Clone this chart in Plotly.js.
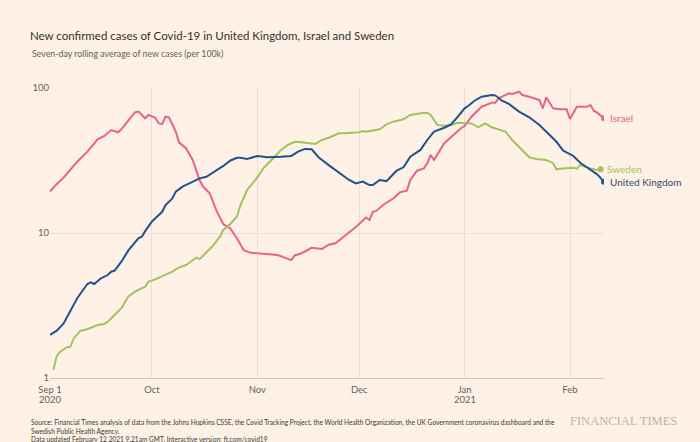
<!DOCTYPE html>
<html>
<head>
<meta charset="utf-8">
<script src="https://cdn.plot.ly/plotly-3.0.1.min.js"></script>
<style>html,body{margin:0;padding:0;background:#fff1e5;}#chart{width:700px;height:442px;}</style>
</head>
<body>
<div id="chart"></div>
<script>
// ---- data (7-day rolling average of new cases per 100k) ----
const israelDates = ['2020-09-01','2020-09-03','2020-09-05','2020-09-07','2020-09-09','2020-09-12','2020-09-15','2020-09-17','2020-09-19','2020-09-21','2020-09-22','2020-09-24','2020-09-26','2020-09-27','2020-09-29','2020-09-30','2020-10-02','2020-10-03','2020-10-04','2020-10-05','2020-10-06','2020-10-08','2020-10-09','2020-10-11','2020-10-13','2020-10-15','2020-10-16','2020-10-18','2020-10-20','2020-10-22','2020-10-24','2020-10-26','2020-10-28','2020-10-30','2020-11-02','2020-11-07','2020-11-11','2020-11-12','2020-11-14','2020-11-17','2020-11-20','2020-11-22','2020-11-24','2020-11-27','2020-11-30','2020-12-03','2020-12-04','2020-12-05','2020-12-06','2020-12-08','2020-12-11','2020-12-13','2020-12-15','2020-12-16','2020-12-18','2020-12-20','2020-12-21','2020-12-22','2020-12-23','2020-12-26','2020-12-28','2020-12-31','2021-01-01','2021-01-02','2021-01-03','2021-01-06','2021-01-09','2021-01-10','2021-01-11','2021-01-14','2021-01-15','2021-01-17','2021-01-18','2021-01-20','2021-01-22','2021-01-23','2021-01-24','2021-01-25','2021-01-27','2021-01-29','2021-01-31','2021-02-01','2021-02-03','2021-02-06','2021-02-07','2021-02-08','2021-02-09','2021-02-11'];
const israelValues = [19.3,21.8,24.1,27.5,31,36.4,44.3,46.7,51.3,49.5,51.9,59.5,68,68.7,61.8,65.2,62.4,57,56.5,63.4,62.8,50,42,38.4,31.9,23.2,20.9,18.8,14.2,11.5,10.8,9.2,7.6,7.3,7.2,7.05,6.5,7.0,7.25,7.9,7.76,8.3,8.5,9.6,11.0,12.8,12.3,14.0,14.2,15.6,17.3,19.1,19.6,23.2,26.9,27.9,30.3,34.5,31.9,41.6,46,53,54.7,59,63.4,74.3,79.2,79,84.9,91.9,90.9,94.3,89.5,87.1,83.6,82.6,72.4,86.3,72.4,71.3,71.3,61.1,74.3,74.3,76.3,69.7,67.6,61.8];

const ukDates = ['2020-09-01','2020-09-03','2020-09-05','2020-09-07','2020-09-09','2020-09-12','2020-09-13','2020-09-14','2020-09-16','2020-09-18','2020-09-19','2020-09-20','2020-09-22','2020-09-24','2020-09-26','2020-09-27','2020-09-28','2020-09-29','2020-10-01','2020-10-04','2020-10-05','2020-10-07','2020-10-08','2020-10-10','2020-10-12','2020-10-13','2020-10-15','2020-10-17','2020-10-19','2020-10-21','2020-10-22','2020-10-24','2020-10-26','2020-10-27','2020-10-29','2020-11-01','2020-11-04','2020-11-08','2020-11-11','2020-11-13','2020-11-15','2020-11-17','2020-11-19','2020-11-22','2020-11-24','2020-11-26','2020-11-28','2020-11-30','2020-12-02','2020-12-04','2020-12-05','2020-12-07','2020-12-09','2020-12-12','2020-12-14','2020-12-16','2020-12-19','2020-12-21','2020-12-23','2020-12-26','2020-12-28','2020-12-30','2021-01-01','2021-01-02','2021-01-04','2021-01-06','2021-01-07','2021-01-09','2021-01-10','2021-01-12','2021-01-14','2021-01-17','2021-01-20','2021-01-23','2021-01-26','2021-01-28','2021-01-30','2021-02-02','2021-02-04','2021-02-06','2021-02-09','2021-02-11'];
const ukValues = [1.98,2.12,2.38,2.94,3.55,4.45,4.57,4.45,4.87,5.13,5.41,5.5,6.34,7.55,8.6,9.2,9.43,10.3,12.0,14.0,15.6,17.3,19.3,20.9,22,22.6,23.8,24.4,26.1,27.9,29,31.5,33,33,32.4,34,33.3,33.6,34,36.4,38,37.8,33.3,29.4,27.2,25.1,23.2,22,22.6,21.4,21.4,23.2,22.8,26.9,28.4,33.6,37.4,43.8,50,53.2,56,63.4,72.4,75.1,82,87.1,87.9,89.5,89,81.7,77.6,68.7,62.8,55.6,47.4,42.6,37,34,30.5,28.4,25.4,22.6];

const swedenDates = ['2020-09-02','2020-09-03','2020-09-04','2020-09-06','2020-09-07','2020-09-08','2020-09-10','2020-09-12','2020-09-15','2020-09-17','2020-09-18','2020-09-20','2020-09-22','2020-09-24','2020-09-26','2020-09-29','2020-09-30','2020-10-02','2020-10-05','2020-10-07','2020-10-09','2020-10-11','2020-10-12','2020-10-14','2020-10-15','2020-10-17','2020-10-19','2020-10-21','2020-10-22','2020-10-24','2020-10-26','2020-10-27','2020-10-29','2020-11-01','2020-11-03','2020-11-06','2020-11-08','2020-11-10','2020-11-12','2020-11-14','2020-11-18','2020-11-20','2020-11-22','2020-11-25','2020-11-27','2020-12-01','2020-12-02','2020-12-03','2020-12-07','2020-12-09','2020-12-11','2020-12-14','2020-12-16','2020-12-19','2020-12-21','2020-12-22','2020-12-24','2020-12-26','2020-12-28','2020-12-30','2021-01-03','2021-01-05','2021-01-07','2021-01-09','2021-01-12','2021-01-13','2021-01-15','2021-01-18','2021-01-20','2021-01-22','2021-01-25','2021-01-27','2021-01-28','2021-01-30','2021-02-02','2021-02-03','2021-02-04','2021-02-07','2021-02-09','2021-02-10'];
const swedenValues = [1.14,1.42,1.52,1.63,1.64,1.88,2.12,2.17,2.32,2.36,2.44,2.72,3.03,3.64,3.94,4.26,4.62,4.79,5.13,5.41,5.8,6.01,6.24,6.76,6.6,7.31,8.2,9.43,10.5,11.5,13,15.5,19.8,24.2,28.4,33.3,37.4,40.5,42.6,42.2,41.1,43.8,45.4,48.7,48.7,49.5,50.5,49.9,51.9,56.2,58.6,60.8,65.2,67,67.6,65.2,55.6,55,55.6,57.6,57,53.6,57,53.6,50.5,50,43.8,36.9,33.3,32.4,31.9,30.3,27.5,27.9,28.2,27.8,29.4,27.9,27.2,27.5];

const monthTicks = ['2020-09-01','2020-10-01','2020-11-01','2020-12-01','2021-01-01','2021-02-01'];
const monthLabels = ['Sep 1','Oct','Nov','Dec','Jan','Feb'];
const yearTicks = ['2020-09-01','2021-01-01'];
const yearLabels = ['2020','2021'];
const yTicks = [1, 10, 100];
const yLabels = ['1','10','100'];

const seriesNames = ['Israel','Sweden','United Kingdom'];
const seriesColors = ['#e9618d','#a4c160','#1f528e'];
const labelColors = ['#e9618d','#a4c160','#3a4668'];

const footerLines = [
  'Source: Financial Times analysis of data from the Johns Hopkins CSSE, the Covid Tracking Project, the World Health Organization, the UK Government coronavirus dashboard and the',
  'Swedish Public Health Agency.',
  'Data updated February 12 2021 9.21am GMT. Interactive version: ft.com/covid19'
];

const FONT = 'Lato, "Open Sans", sans-serif';

// plot area in pixels: x 50..604, y 88..378
const PL = 50, PW = 554, PT = 88, PH = 290;
const px = v => (v - PL) / PW;
const py = v => (PT + PH - v) / PH;

const series = [
  {name: seriesNames[0], x: israelDates, y: israelValues, color: seriesColors[0], lab: labelColors[0]},
  {name: seriesNames[1], x: swedenDates, y: swedenValues, color: seriesColors[1], lab: labelColors[1]},
  {name: seriesNames[2], x: ukDates, y: ukValues, color: seriesColors[2], lab: labelColors[2]}
];

const traces = [];
const annotations = [];
series.forEach(s => {
  traces.push({type: 'scatter', mode: 'lines', x: s.x, y: s.y, name: s.name,
    line: {color: s.color, width: 2}, hoverinfo: 'x+y+name'});
  const lx = s.x[s.x.length - 1], ly = s.y[s.y.length - 1];
  traces.push({type: 'scatter', mode: 'markers', x: [lx], y: [ly], showlegend: false,
    marker: {color: s.color, size: 6}, hoverinfo: 'skip'});
  annotations.push({x: lx, y: Math.log10(ly), xref: 'x', yref: 'y', text: s.name,
    showarrow: false, xanchor: 'left', yanchor: 'middle', xshift: 4,
    font: {family: FONT, size: 10, color: s.lab}});
});

// year labels under the month ticks
yearTicks.forEach((d, i) => {
  annotations.push({x: d, xref: 'x', yref: 'paper', y: py(399.5), yanchor: 'middle', xanchor: 'center',
    text: yearLabels[i], showarrow: false, font: {family: FONT, size: 9.5, color: '#66605c'}});
});

annotations.push({xref: 'paper', yref: 'paper', x: px(30), xanchor: 'left', y: py(53), yanchor: 'middle',
  text: 'Seven-day rolling average of new cases (per 100k)', showarrow: false,
  font: {family: FONT, size: 8.8, color: '#66605c'}});
annotations.push({xref: 'paper', yref: 'paper', x: px(30), xanchor: 'left', y: py(430), yanchor: 'middle', align: 'left',
  text: footerLines.join('<br>'), showarrow: false, borderpad: 0,
  font: {family: FONT, size: 6.6, color: '#3d3936'}});
annotations.push({xref: 'paper', yref: 'paper', x: px(679), xanchor: 'right', y: py(420.5), yanchor: 'middle',
  text: 'FINANCIAL TIMES', showarrow: false,
  font: {family: '"Liberation Serif", "DejaVu Serif", serif', size: 12.5, color: '#bdb4ac'}});

const layout = {
  width: 700, height: 442,
  paper_bgcolor: '#fff1e5', plot_bgcolor: '#fff1e5',
  margin: {l: 50, r: 96, t: 88, b: 64},
  showlegend: false,
  title: {text: 'New confirmed cases of Covid-19 in United Kingdom, Israel and Sweden',
    x: 30/700, xref: 'container', xanchor: 'left', y: 1 - 36/442, yref: 'container', yanchor: 'middle',
    font: {family: FONT, size: 11.5, color: '#33302e'}},
  xaxis: {type: 'date', range: ['2020-09-01', '2021-02-11'], tickmode: 'array',
    tickvals: monthTicks, ticktext: monthLabels, showgrid: true, gridcolor: '#ebdfd4', gridwidth: 1,
    showline: true, linecolor: '#cfc5bb', linewidth: 1, ticks: 'outside', ticklen: 3, tickcolor: 'rgba(0,0,0,0)', zeroline: false,
    tickfont: {family: FONT, size: 9.5, color: '#66605c'}},
  yaxis: {type: 'log', range: [0, 2], tickmode: 'array', tickvals: yTicks, ticktext: yLabels,
    showgrid: true, gridcolor: '#ebdfd4', gridwidth: 1, showline: false, ticks: '', zeroline: false,
    tickfont: {family: FONT, size: 9.5, color: '#66605c'}},
  annotations: annotations
};

Plotly.newPlot('chart', traces, layout, {displayModeBar: false, staticPlot: true});
</script>
</body>
</html>
